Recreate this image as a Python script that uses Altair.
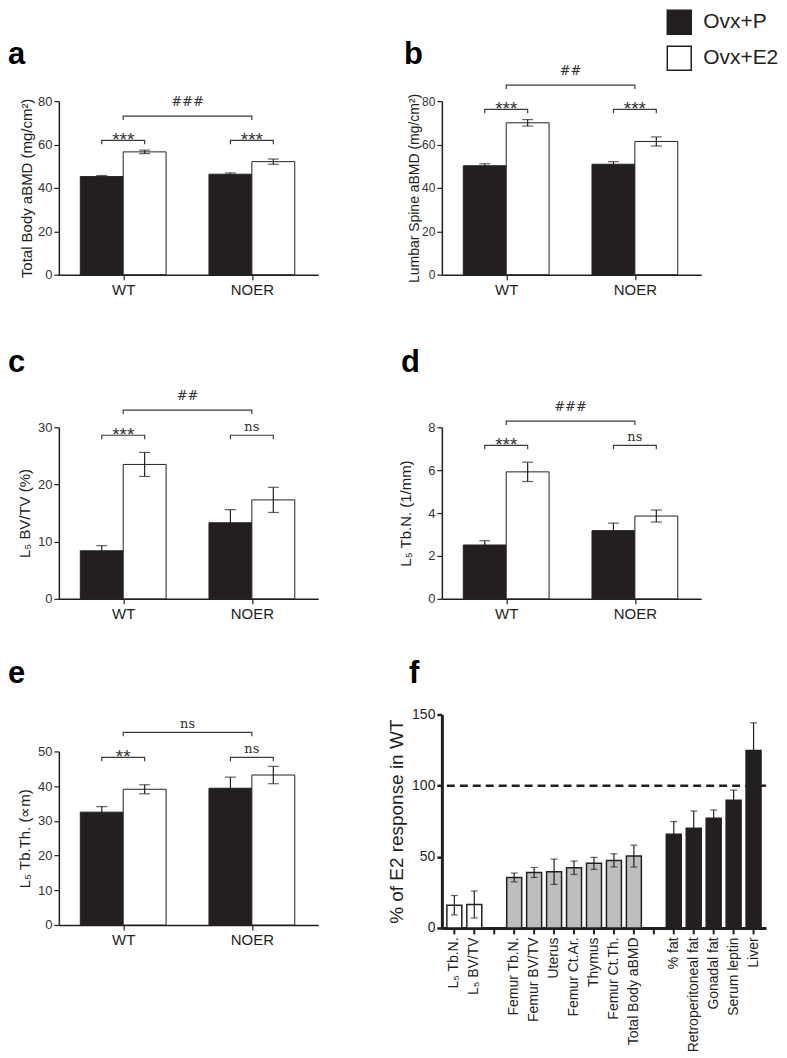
import json
import altair as alt
import pandas as pd

BLACK = "#231f20"
GREY = "#bcbec0"
DARK = "#333333"
SANS = "Liberation Sans"
SERIF = "DejaVu Serif"

# ---------------- data ----------------
groups = ["WT", "NOER"]
series = ["Ovx+P", "Ovx+E2"]

# order of values: WT/Ovx+P, WT/Ovx+E2, NOER/Ovx+P, NOER/Ovx+E2
a_mean = [45.2, 56.6, 46.3, 52.1]
a_err = [0.5, 0.8, 0.6, 1.2]
b_mean = [50.2, 70.0, 50.9, 61.4]
b_err = [0.9, 1.5, 1.2, 2.1]
c_mean = [8.4, 23.5, 13.3, 17.3]
c_err = [0.9, 2.1, 2.3, 2.2]
d_mean = [2.51, 5.92, 3.18, 3.86]
d_err = [0.2, 0.45, 0.35, 0.28]
e_mean = [32.5, 39.1, 39.4, 43.2]
e_err = [1.6, 1.3, 3.2, 2.5]

# significance marks: within WT, within NOER, between genotypes
a_sig = ["***", "***", "###"]
a_lvl = [61.9, 61.9, 73.1]
b_sig = ["***", "***", "##"]
b_lvl = [76.2, 76.2, 87.4]
c_sig = ["***", "ns", "##"]
c_lvl = [28.6, 28.6, 33.0]
d_sig = ["***", "ns", "###"]
d_lvl = [7.16, 7.16, 8.29]
e_sig = ["**", "ns", "ns"]
e_lvl = [48.3, 48.3, 55.5]

# panel f
f_cat1 = ["L\u2085 Tb.N.", "L\u2085 BV/TV"]
f_val1 = [16.0, 16.5]
f_err1 = [6.8, 9.5]
f_cat2 = ["Femur Tb.N.", "Femur BV/TV", "Uterus", "Femur Ct.Ar.", "Thymus",
          "Femur Ct.Th.", "Total Body aBMD"]
f_val2 = [35.5, 39.0, 39.5, 42.3, 45.4, 47.5, 50.5]
f_err2 = [3.1, 3.5, 8.9, 4.7, 4.2, 4.6, 7.7]
f_cat3 = ["% fat", "Retroperitoneal fat", "Gonadal fat", "Serum leptin", "Liver"]
f_val3 = [65.9, 70.1, 77.1, 89.7, 124.8]
f_err3 = [8.9, 12.1, 5.8, 7.2, 19.4]
f_ref = [100]


# ---------------- helpers ----------------
def y_axis(vals, title, tx, tsize, lsize=13):
    return alt.Axis(values=vals, title=title, titleX=tx, titleBaseline="middle",
                    titleFontSize=tsize, titleFont=SANS, titleFontWeight="normal",
                    titleColor=BLACK, labelFont=SANS, labelFontSize=lsize,
                    labelColor=DARK, labelPadding=2, tickSize=5, tickWidth=1.2,
                    tickColor=BLACK, domainColor=BLACK, domainWidth=1.5, grid=False)


def x_axis():
    ng = len(series) + 1
    return alt.Axis(values=[gi * ng + (len(series) + 1) / 2 for gi in range(len(groups))],
                    labelExpr=f"{json.dumps(groups)}[floor(datum.value/{ng})]",
                    title=None, labelFont=SANS, labelFontSize=15, labelColor=BLACK,
                    labelPadding=3, tickSize=5, tickWidth=1.2, tickColor=BLACK,
                    domainColor=BLACK, domainWidth=1.5, grid=False, labelFlush=False)


LEGEND = alt.Legend(orient="none", legendX=609, legendY=-92, title=None,
                    symbolType="square", symbolSize=576, symbolStrokeColor=BLACK,
                    symbolStrokeWidth=1.5, labelFontSize=21, labelFont=SANS,
                    labelColor=BLACK, labelOffset=11, rowPadding=6, padding=0)


def panel(mean, err, sig, lvl, ymax, yvals, h, ytitle, tx, tsize, letter, lx, ly,
          lsize=13):
    w = 260
    xdom = [0, w / 43.0]
    ng = len(series) + 1
    rows = []
    for gi, g in enumerate(groups):
        for si, s in enumerate(series):
            k = gi * len(series) + si
            p = gi * ng + si + 1
            rows.append(dict(group=g, series=s, pos=p, x1=p - 0.5, x2=p + 0.5,
                             mean=mean[k], lo=mean[k] - err[k], hi=mean[k] + err[k]))
    df = pd.DataFrame(rows)
    xa = x_axis()
    ya = y_axis(yvals, ytitle, tx, tsize, lsize)

    def X(f):
        return alt.X(f, type="quantitative",
                     scale=alt.Scale(domain=xdom, nice=False, zero=False), axis=xa)

    def Y(f):
        return alt.Y(f, type="quantitative",
                     scale=alt.Scale(domain=[0, ymax], nice=False), axis=ya)

    fill = alt.Fill("series:N", scale=alt.Scale(domain=series, range=[BLACK, "white"]),
                    legend=LEGEND)
    bars = alt.Chart(df).mark_bar(stroke=BLACK, strokeWidth=1).encode(
        x=X("x1"), x2="x2", y=Y("mean"), y2=alt.datum(0), fill=fill)
    rule = alt.Chart(df).mark_rule(color=BLACK, strokeWidth=1.2).encode(
        x=X("pos"), y=Y("lo"), y2="hi")
    cap_lo = alt.Chart(df).mark_tick(orient="horizontal", size=11, thickness=1.2,
                                     color=BLACK).encode(x=X("pos"), y=Y("lo"))
    cap_hi = alt.Chart(df).mark_tick(orient="horizontal", size=11, thickness=1.2,
                                     color=BLACK).encode(x=X("pos"), y=Y("hi"))

    # brackets
    drop = 4.0 * ymax / h
    brows, trows = [], []
    for i, (lab, lv) in enumerate(zip(sig, lvl)):
        if i < len(groups):
            x1 = i * ng + 1
            x2 = i * ng + len(series)
        else:
            x1 = (len(series) + 1) / 2
            x2 = (len(groups) - 1) * ng + (len(series) + 1) / 2
        for k, (xx, yy) in enumerate([(x1, lv - drop), (x1, lv), (x2, lv), (x2, lv - drop)]):
            brows.append(dict(id=i, k=k, bx=xx, by=yy))
        style = "ast" if lab.startswith("*") else ("hash" if lab.startswith("#") else "ns")
        trows.append(dict(cx=(x1 + x2) / 2, lvl=lv, label=lab, style=style))
    bdf = pd.DataFrame(brows)
    tdf = pd.DataFrame(trows)
    brk = alt.Chart(bdf).mark_line(color="#3a3a3a", strokeWidth=1.2).encode(
        x=X("bx"), y=Y("by"), detail="id:N", order="k:Q")

    layers = [bars, rule, cap_lo, cap_hi, brk]
    styles = {"ast": dict(font=SANS, fontSize=19, dy=6),
              "hash": dict(font=SERIF, fontSize=13, dy=-10),
              "ns": dict(font=SERIF, fontSize=13, dy=-4)}
    for st, kw in styles.items():
        sub = tdf[tdf["style"] == st]
        if len(sub) == 0:
            continue
        layers.append(alt.Chart(sub).mark_text(baseline="alphabetic", color=DARK, **kw)
                      .encode(x=X("cx"), y=Y("lvl"), text="label:N"))
    lab = alt.Chart(pd.DataFrame({"t": [letter]})).mark_text(
        font=SANS, fontSize=31, fontWeight="bold", align="left",
        baseline="alphabetic", color="black").encode(
        x=alt.value(lx), y=alt.value(ly), text="t:N")
    layers.append(lab)
    return alt.layer(*layers).properties(width=w, height=h)


pa = panel(a_mean, a_err, a_sig, a_lvl, 80, [0, 20, 40, 60, 80], 174,
           "Total  Body aBMD (mg/cm\u00b2)", -32, 15, "a", -51, -37)
pb = panel(b_mean, b_err, b_sig, b_lvl, 80, [0, 20, 40, 60, 80], 174,
           "Lumbar Spine aBMD (mg/cm\u00b2)", -27, 14, "b", -38, -37, lsize=12)
pc = panel(c_mean, c_err, c_sig, c_lvl, 30, [0, 10, 20, 30], 172,
           "L\u2085 BV/TV (%)", -34, 15, "c", -51, -55)
pd_ = panel(d_mean, d_err, d_sig, d_lvl, 8, [0, 2, 4, 6, 8], 172,
            "L\u2085 Tb.N. (1/mm)", -36, 15, "d", -41, -55)
pe = panel(e_mean, e_err, e_sig, e_lvl, 50, [0, 10, 20, 30, 40, 50], 174,
           "L\u2085 Tb.Th. (\u221dm)", -34, 15, "e", -51, -69)

# ---------------- panel f ----------------
gap1, gap2 = " ", "  "
slots = f_cat1 + [gap1] + f_cat2 + [gap2] + f_cat3
fdf = pd.DataFrame({
    "cat": f_cat1 + f_cat2 + f_cat3,
    "val": f_val1 + f_val2 + f_val3,
    "err": f_err1 + f_err2 + f_err3,
    "grp": ["L5"] * len(f_cat1) + ["bone"] * len(f_cat2) + ["fat"] * len(f_cat3),
})
fdf["lo"] = fdf["val"] - fdf["err"]
fdf["hi"] = fdf["val"] + fdf["err"]

fxa = alt.Axis(title=None, labelAngle=-90, labelFont=SANS, labelFontSize=14,
               labelColor=BLACK, labelPadding=3, tickSize=6, tickWidth=2,
               tickColor=BLACK, domainColor=BLACK, domainWidth=3, grid=False)
fya = alt.Axis(values=[0, 50, 100, 150], title="% of E2 response in WT", titleX=-45,
               titleBaseline="middle", titleFontSize=19, titleFont=SANS,
               titleFontWeight="normal", titleColor=BLACK, labelFont=SANS,
               labelFontSize=14, labelColor=BLACK, labelPadding=2, tickSize=5,
               tickWidth=2.5, tickColor=BLACK, domainColor=BLACK, domainWidth=3,
               grid=False)


def FX():
    return alt.X("cat:N", scale=alt.Scale(domain=slots, paddingInner=0.25,
                                          paddingOuter=0.25), axis=fxa)


def FY(f):
    return alt.Y(f, type="quantitative", scale=alt.Scale(domain=[0, 150], nice=False),
                 axis=fya)


ref = alt.Chart(pd.DataFrame({"ref": f_ref})).mark_rule(
    color=BLACK, strokeWidth=2.5, strokeDash=[8, 5]).encode(y=FY("ref"))
fbars = alt.Chart(fdf).mark_bar(stroke=BLACK, strokeWidth=1.5).encode(
    x=FX(), y=FY("val"),
    color=alt.Color("grp:N", scale=alt.Scale(domain=["L5", "bone", "fat"],
                                             range=["white", GREY, BLACK]), legend=None))
frule = alt.Chart(fdf).mark_rule(color=BLACK, strokeWidth=1.2).encode(
    x=FX(), y=FY("lo"), y2="hi")
fcap_lo = alt.Chart(fdf).mark_tick(orient="horizontal", size=7, thickness=1.2,
                                   color=BLACK).encode(x=FX(), y=FY("lo"))
fcap_hi = alt.Chart(fdf).mark_tick(orient="horizontal", size=7, thickness=1.2,
                                   color=BLACK).encode(x=FX(), y=FY("hi"))
flab = alt.Chart(pd.DataFrame({"t": ["f"]})).mark_text(
    font=SANS, fontSize=31, fontWeight="bold", align="left", baseline="alphabetic",
    color="black").encode(x=alt.value(-33), y=alt.value(-32), text="t:N")
pf = alt.layer(ref, fbars, frule, fcap_lo, fcap_hi, flab).properties(width=325, height=214)


# ---------------- layout ----------------
def spacer(h):
    return alt.Chart(pd.DataFrame({"s": [0]})).mark_point(opacity=0).properties(
        width=1, height=h)


col1 = alt.vconcat(pa, spacer(153), pc, spacer(153), pe, spacing=0, bounds="flush")
col2 = alt.vconcat(pb, spacer(153), pd_, spacer(116), pf, spacing=0, bounds="flush")
chart = (alt.hconcat(col1, col2, spacing=69)
         .properties(padding=0, background="white")
         .configure_view(stroke=None))

chart.save("out.html", embed_options={"renderer": "svg", "actions": False})
